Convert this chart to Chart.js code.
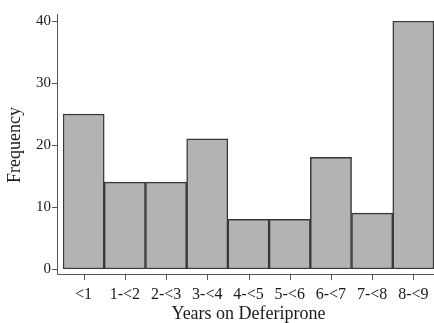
<!DOCTYPE html>
<html>
<head>
<meta charset="utf-8">
<script src="https://cdn.jsdelivr.net/npm/chart.js@4"></script>
<style>
  html, body { margin: 0; padding: 0; background: #fff; }
  #wrap { width: 434px; height: 323px; }
</style>
</head>
<body>
<div id="wrap"><canvas id="histChart" width="434" height="323"></canvas></div>
<script>
// --- Data ---
const yearBins = ["<1", "1-<2", "2-<3", "3-<4", "4-<5", "5-<6", "6-<7", "7-<8", "8-<9"];
const frequency = [25, 14, 14, 21, 8, 8, 18, 9, 40];
const yTicks = [0, 10, 20, 30, 40];

const serif = "'Liberation Serif', 'Times New Roman', serif";
const inkColor = "#1a1a1a";

// detached axes like the original figure (lines sit a few px off the bars)
const detachedAxes = {
  id: "detachedAxes",
  afterDraw(chart) {
    const ctx = chart.ctx;
    const area = chart.chartArea;
    const x = chart.scales.x, y = chart.scales.y;
    const ax = area.left - 6, ay = area.bottom + 5;
    ctx.save();
    ctx.strokeStyle = "#555";
    ctx.lineWidth = 1;
    ctx.beginPath();
    ctx.moveTo(ax + 0.5, area.top - 7);
    ctx.lineTo(ax + 0.5, ay + 0.5);
    ctx.lineTo(chart.width, ay + 0.5);
    // y tick marks
    yTicks.forEach(v => {
      const py = Math.round(y.getPixelForValue(v)) + 0.5;
      ctx.moveTo(ax - 5, py);
      ctx.lineTo(ax + 0.5, py);
    });
    // x tick marks
    yearBins.forEach((b, i) => {
      const px = Math.round(x.getPixelForValue(i)) + 0.5;
      ctx.moveTo(px, ay + 0.5);
      ctx.lineTo(px, ay + 6);
    });
    ctx.stroke();
    ctx.restore();
  }
};

new Chart(document.getElementById("histChart"), {
  type: "bar",
  data: {
    labels: yearBins,
    datasets: [{
      data: frequency,
      backgroundColor: "#b3b3b3",
      borderColor: "#383838",
      borderWidth: 1.5,
      borderSkipped: false,
      categoryPercentage: 1,
      barPercentage: 1
    }]
  },
  options: {
    responsive: false,
    animation: false,
    layout: { padding: { top: 19, right: 0, left: 0, bottom: 0 } },
    plugins: { legend: { display: false }, tooltip: { enabled: false } },
    scales: {
      x: {
        grid: { display: false, drawTicks: false },
        border: { display: false },
        ticks: {
          color: inkColor,
          padding: 16,
          maxRotation: 0,
          autoSkip: false,
          font: { family: serif, size: 16 }
        },
        title: {
          display: true,
          text: "Years on Deferiprone",
          color: inkColor,
          padding: { top: 0, bottom: -2 },
          font: { family: serif, size: 18 }
        },
        afterFit: s => {
          s.height = 54;
          s.paddingLeft = 0;
          s.paddingRight = 0;
        }
      },
      y: {
        min: 0,
        max: 40,
        grid: { display: false, drawTicks: false },
        border: { display: false },
        afterBuildTicks: s => { s.ticks = yTicks.map(v => ({ value: v })); },
        ticks: {
          color: inkColor,
          padding: 12,
          font: { family: serif, size: 15 }
        },
        title: {
          display: true,
          text: "Frequency",
          color: inkColor,
          padding: { top: 4, bottom: 0 },
          font: { family: serif, size: 18 }
        },
        afterFit: s => { s.width = 63; }
      }
    }
  },
  plugins: [detachedAxes]
});
</script>
</body>
</html>
